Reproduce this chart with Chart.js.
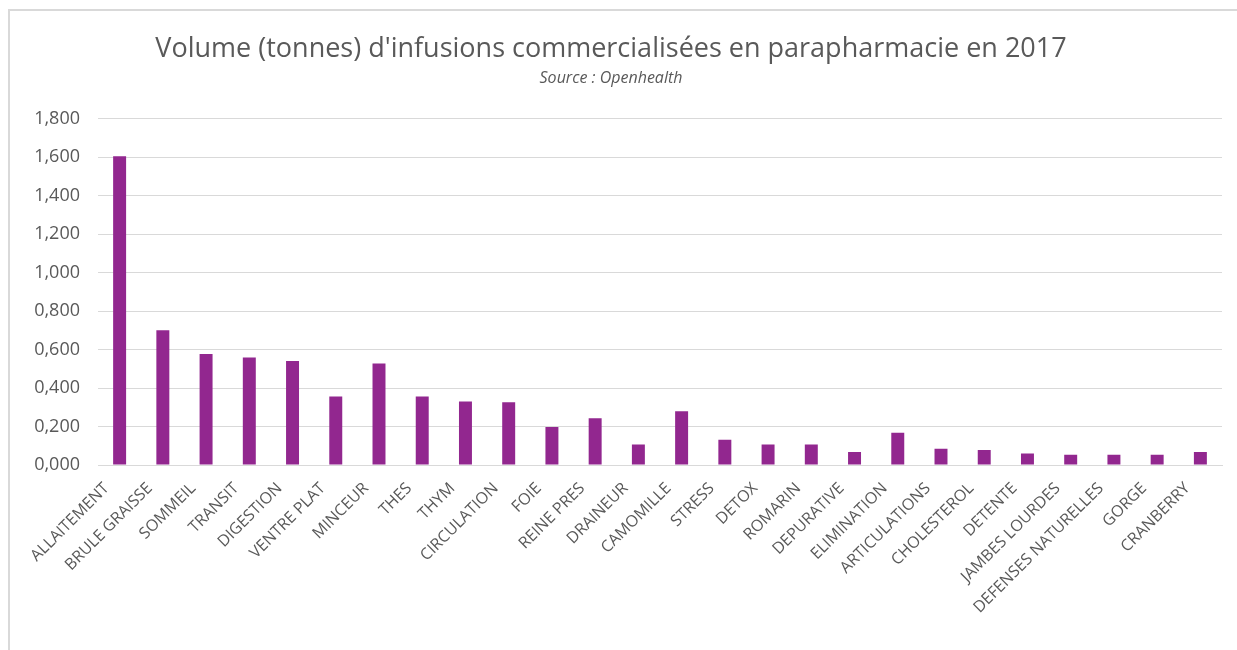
<!DOCTYPE html>
<html>
<head>
<meta charset="utf-8">
<script src="https://cdn.jsdelivr.net/npm/chart.js@4/dist/chart.umd.min.js"></script>
<style>
  html, body { margin: 0; padding: 0; background: #fff; }
  #frame {
    position: absolute; left: 8px; top: 9px; width: 1300px; height: 700px;
    border-top: 2px solid #d9d9d9; border-left: 2px solid #d9d9d9;
  }
  #wrap { position: absolute; left: 0; top: 0; width: 1237px; height: 650px; }
</style>
</head>
<body>
<div id="frame"></div>
<div id="wrap"><canvas id="chart"></canvas></div>
<script>
const categories = [
  'ALLAITEMENT', 'BRULE GRAISSE', 'SOMMEIL', 'TRANSIT', 'DIGESTION', 'VENTRE PLAT',
  'MINCEUR', 'THES', 'THYM', 'CIRCULATION', 'FOIE', 'REINE PRES', 'DRAINEUR',
  'CAMOMILLE', 'STRESS', 'DETOX', 'ROMARIN', 'DEPURATIVE', 'ELIMINATION',
  'ARTICULATIONS', 'CHOLESTEROL', 'DETENTE', 'JAMBES LOURDES', 'DEFENSES NATURELLES',
  'GORGE', 'CRANBERRY'
];
const volumes = [
  1.605, 0.700, 0.577, 0.559, 0.540, 0.356,
  0.528, 0.356, 0.330, 0.326, 0.197, 0.243, 0.107,
  0.279, 0.131, 0.107, 0.107, 0.067, 0.167,
  0.084, 0.078, 0.060, 0.053, 0.053,
  0.053, 0.067
];
const yTicks = [0, 0.2, 0.4, 0.6, 0.8, 1.0, 1.2, 1.4, 1.6, 1.8];

const textColor = '#595959';

new Chart(document.getElementById('chart'), {
  type: 'bar',
  data: {
    labels: categories,
    datasets: [{
      data: volumes,
      backgroundColor: '#92278f',
      borderWidth: 0,
      barPercentage: 0.6,
      categoryPercentage: 0.5
    }]
  },
  options: {
    responsive: true,
    maintainAspectRatio: false,
    animation: false,
    layout: { padding: { left: 0, right: 15, top: 0, bottom: 0 } },
    plugins: {
      legend: { display: false },
      tooltip: { enabled: false },
      title: {
        display: true,
        text: "Volume (tonnes) d'infusions commercialisées en parapharmacie en 2017",
        color: textColor,
        font: { family: 'Open Sans', size: 27, weight: 'normal', lineHeight: 1.2 },
        padding: { top: 33, bottom: 2 }
      },
      subtitle: {
        display: true,
        text: 'Source : Openhealth',
        color: textColor,
        font: { family: 'Open Sans', size: 16, style: 'italic', lineHeight: 1.2 },
        padding: { top: 1, bottom: 31 }
      }
    },
    scales: {
      x: {
        grid: { display: false },
        border: { display: true, color: '#d9d9d9', width: 1 },
        ticks: {
          color: textColor,
          font: { family: 'Open Sans', size: 16 },
          maxRotation: 45,
          minRotation: 45,
          autoSkip: false,
          labelOffset: -13,
          padding: 6
        },
        afterFit: function (scale) { scale.height = 185; }
      },
      y: {
        min: 0,
        max: 1.8,
        afterBuildTicks: function (scale) {
          scale.ticks = yTicks.map(function (v) { return { value: v }; });
        },
        grid: { color: '#d9d9d9', drawTicks: false },
        border: { display: false },
        ticks: {
          color: textColor,
          font: { family: 'Open Sans', size: 18 },
          padding: 18,
          callback: function (value) {
            return Number(value).toFixed(3).replace('.', ',');
          }
        },
        afterFit: function (scale) { scale.width = 98; }
      }
    }
  }
});
</script>
</body>
</html>
